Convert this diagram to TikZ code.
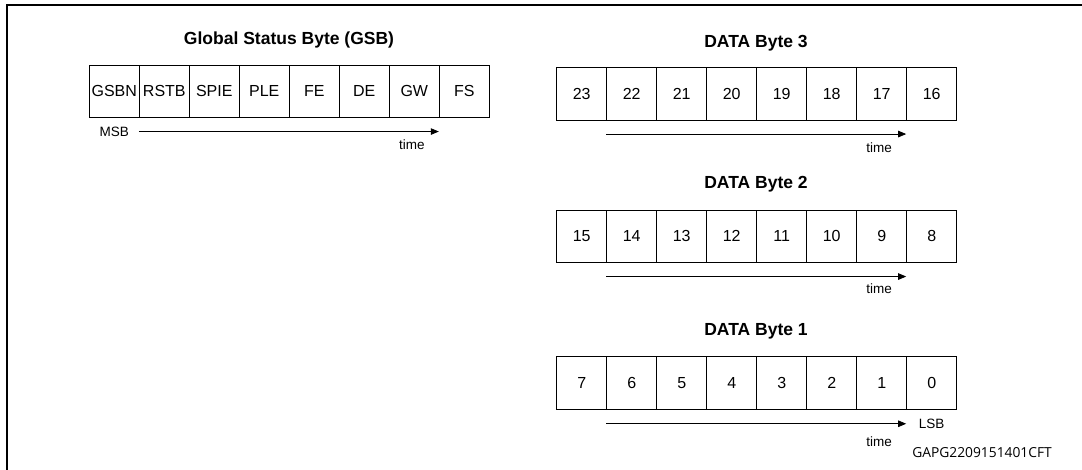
\documentclass[tikz,border=0pt]{standalone}
\usepackage{fontspec}
\setmainfont{Liberation Sans}
\newfontfamily\codefont{Open Sans}
\usetikzlibrary{arrows.meta,calc}
\tikzset{
  cell/.style={draw, line width=1pt, minimum width=50pt, minimum height=52.5pt, inner sep=0pt, font=\fontsize{16}{18}\selectfont},
  ttl/.style={font=\bfseries\fontsize{17.5}{20}\selectfont, inner sep=0pt},
  lbl/.style={font=\fontsize{13.5}{15}\selectfont, inner sep=0pt},
  tarrow/.style={line width=0.8pt, -{Triangle[length=8pt,width=6.5pt]}},
  frame/.style={line width=2pt}
}
\begin{document}
\begin{tikzpicture}[x=1pt,y=-1pt]
\useasboundingbox (0,0) rectangle (1082,470);
% frame
\coordinate (ftr) at (1082,5.5);
\coordinate (ftl) at (7,5.5);
\coordinate (fbl) at (7,470);
\draw[frame] (ftr) -- (ftl) -- (fbl);

% GSB
\node[ttl] (gsbt) at (289,40) {Global Status Byte (GSB)};
\foreach \t [count=\i from 0] in {GSBN,RSTB,SPIE,PLE,FE,DE,GW,FS}{
  \node[cell] (g\i) at (114.3+50*\i,91.3) {\t};
}
\coordinate (gs) at ($(g1.south west)+(0,13.5)$);
\coordinate (ge) at ($(g7.south west)+(0,13.5)$);
\draw[tarrow] (gs) -- (ge);
\node[lbl] (msb) at ($(g0.south)+(0,13.5)$) {MSB};
\node[lbl] (gtime) at ($(ge)+(-27,13)$) {time};

% DATA Byte 3
\node[ttl] (d3t) at (756,43) {DATA Byte 3};
\foreach \t [count=\i from 0] in {23,22,21,20,19,18,17,16}{
  \node[cell] (a\i) at (581.7+50*\i,93.8) {\t};
}
\coordinate (as) at ($(a1.south west)+(0,13.5)$);
\coordinate (ae) at ($(a7.south west)+(0,13.5)$);
\draw[tarrow] (as) -- (ae);
\node[lbl] (atime) at ($(ae)+(-27,13.5)$) {time};

% DATA Byte 2
\node[ttl] (d2t) at (756,184) {DATA Byte 2};
\foreach \t [count=\i from 0] in {15,14,13,12,11,10,9,8}{
  \node[cell] (b\i) at (581.7+50*\i,236.3) {\t};
}
\coordinate (bs) at ($(b1.south west)+(0,13.5)$);
\coordinate (be) at ($(b7.south west)+(0,13.5)$);
\draw[tarrow] (bs) -- (be);
\node[lbl] (btime) at ($(be)+(-27,12.5)$) {time};

% DATA Byte 1
\node[ttl] (d1t) at (756,331.7) {DATA Byte 1};
\foreach \t [count=\i from 0] in {7,6,5,4,3,2,1,0}{
  \node[cell] (c\i) at (581.7+50*\i,383) {\t};
}
\coordinate (cs) at ($(c1.south west)+(0,14)$);
\coordinate (ce) at ($(c7.south west)+(0,14)$);
\draw[tarrow] (cs) -- (ce);
\node[lbl] (lsb) at ($(c7.south)+(0,14)$) {LSB};
\node[lbl] (ctime) at ($(ce)+(-27,17.5)$) {time};

\node[font=\codefont\fontsize{13.8}{16}\selectfont, inner sep=0pt] (code) at (982,453) {GAPG2209151401CFT};
\end{tikzpicture}
\end{document}
